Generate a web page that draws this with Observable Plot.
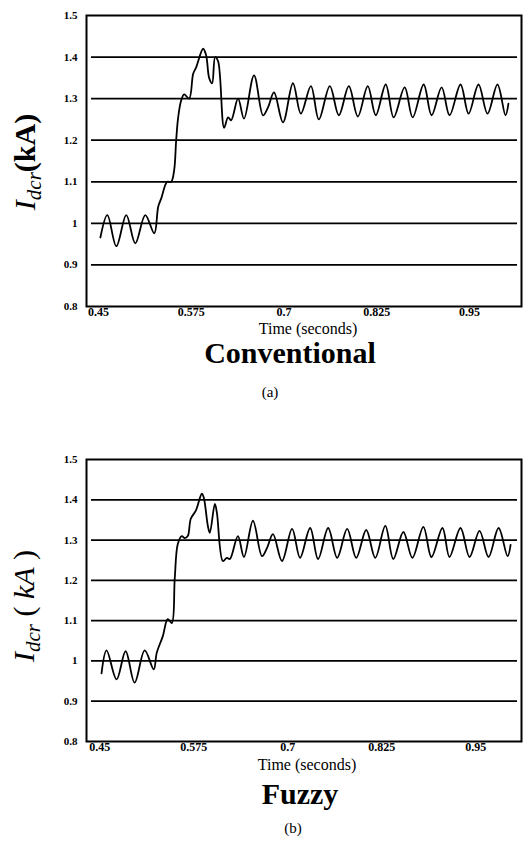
<!DOCTYPE html>
<html><head><meta charset="utf-8">
<script src="https://cdn.jsdelivr.net/npm/d3@7"></script>
<script src="https://cdn.jsdelivr.net/npm/@observablehq/plot@0.6"></script>
<style>
body{margin:0;background:#fff;}
#root{position:relative;width:524px;height:844px;overflow:hidden;font-family:"Liberation Serif","Times New Roman",serif;color:#000;}
.lbl{position:absolute;transform:translate(-50%,-50%);white-space:nowrap;line-height:1;}
.ylab{position:absolute;transform:translate(-50%,-50%) rotate(-90deg);white-space:nowrap;font-size:30px;line-height:1;}
.ylab sub{font-size:21px;vertical-align:-6px;}
.chart{position:absolute;left:0;}
.chart svg{display:block;}
</style></head><body><div id="root">
<div class="chart" id="c1" style="top:0px"></div>
<div class="chart" id="c2" style="top:444px"></div>
<div class="ylab" style="left:27px;top:162px"><i>I</i><sub><i>dcr</i></sub><b>(kA)</b></div>
<div class="ylab" style="left:26px;top:606px"><i>I</i><sub><i>dcr</i></sub> ( <i>kA</i> )</div>
<div class="lbl" style="left:308px;top:329px;font-size:16px">Time (seconds)</div>
<div class="lbl" style="left:290px;top:353px;font-size:30px;font-weight:bold">Conventional</div>
<div class="lbl" style="left:270px;top:392px;font-size:15px">(a)</div>
<div class="lbl" style="left:307px;top:765px;font-size:16px">Time (seconds)</div>
<div class="lbl" style="left:300px;top:794px;font-size:30px;font-weight:bold">Fuzzy</div>
<div class="lbl" style="left:293px;top:828px;font-size:15px">(b)</div>
</div>
<script>
// Conventional controller (a)
const timeConv = [0.4527,0.4621,0.4742,0.4876,0.4997,0.5132,0.5253,0.5306,0.5347,0.5427,0.5481,0.5521,0.5548,0.5575,0.5616,0.5656,0.5723,0.5777,0.5817,0.5911,0.5952,0.5992,0.6032,0.6073,0.6113,0.6194,0.6247,0.6288,0.6382,0.6462,0.6597,0.6718,0.6785,0.6866,0.6987,0.7121,0.7228,0.7363,0.7470,0.7618,0.7739,0.7874,0.7995,0.8129,0.8237,0.8371,0.8478,0.8626,0.8734,0.8882,0.8989,0.9124,0.9231,0.9379,0.9487,0.9621,0.9742,0.9876,0.9984,1.0024];
const idcrConv = [0.966,1.02,0.945,1.02,0.952,1.02,0.976,1.04,1.06,1.10,1.10,1.128,1.20,1.255,1.296,1.31,1.30,1.36,1.375,1.42,1.404,1.35,1.337,1.40,1.39,1.23,1.255,1.248,1.30,1.252,1.356,1.26,1.279,1.315,1.243,1.337,1.264,1.33,1.25,1.33,1.26,1.33,1.257,1.33,1.26,1.334,1.255,1.327,1.255,1.334,1.26,1.327,1.26,1.334,1.264,1.334,1.264,1.334,1.26,1.288];
// Fuzzy controller (b)
const timeFuzzy = [0.4525,0.4592,0.4725,0.4845,0.4965,0.5099,0.5219,0.5259,0.5339,0.5405,0.5459,0.5499,0.5539,0.5592,0.5632,0.5672,0.5712,0.5779,0.5859,0.5885,0.5939,0.5965,0.6032,0.6059,0.6139,0.6192,0.6232,0.6339,0.6419,0.6539,0.6659,0.6725,0.6805,0.6925,0.7059,0.7165,0.7299,0.7405,0.7539,0.7659,0.7792,0.7912,0.8045,0.8165,0.8299,0.8405,0.8539,0.8659,0.8805,0.8912,0.9059,0.9152,0.9299,0.9419,0.9552,0.9672,0.9805,0.9925,0.9965];
const idcrFuzzy = [0.969,1.026,0.954,1.024,0.946,1.026,0.979,1.02,1.061,1.104,1.094,1.206,1.29,1.31,1.305,1.31,1.353,1.373,1.415,1.405,1.335,1.318,1.39,1.368,1.248,1.256,1.253,1.31,1.258,1.348,1.26,1.28,1.315,1.248,1.328,1.256,1.33,1.253,1.33,1.256,1.328,1.256,1.325,1.256,1.335,1.253,1.32,1.256,1.333,1.258,1.33,1.258,1.33,1.258,1.323,1.258,1.33,1.26,1.288];
const xTicks = [0.45, 0.575, 0.7, 0.825, 0.95];
const xTickLabels = ["0.45", "0.575", "0.7", "0.825", "0.95"];
const yTicks = [0.8, 0.9, 1, 1.1, 1.2, 1.3, 1.4, 1.5];
const yTickLabels = ["0.8", "0.9", "1", "1.1", "1.2", "1.3", "1.4", "1.5"];
const gridY = [0.9, 1, 1.1, 1.2, 1.3, 1.4];

function makeChart(times, vals, height, xDomain) {
  const data = times.map((t, i) => ({t, v: vals[i]}));
  return Plot.plot({
    width: 524, height,
    marginLeft: 86, marginRight: 3, marginTop: 15, marginBottom: 20,
    x: {domain: xDomain},
    y: {domain: [0.8, 1.5]},
    style: {fontFamily: '"Liberation Serif","Times New Roman",serif', fontWeight: "bold", fontSize: "12px", color: "#000", background: "#fff"},
    marks: [
      Plot.ruleY(gridY, {stroke: "#000", strokeWidth: 1.7, insetLeft: 5, insetRight: 4}),
      Plot.line(data, {x: "t", y: "v", curve: "catmull-rom", stroke: "#000", strokeWidth: 1.8}),
      Plot.frame({stroke: "#000", strokeWidth: 2}),
      Plot.axisX(xTicks, {tickSize: 0, tickPadding: 1, label: null, fontSize: 12, tickFormat: d => xTickLabels[xTicks.indexOf(d)]}),
      Plot.axisY(yTicks, {tickSize: 0, tickPadding: 9, label: null, fontSize: 11, tickFormat: d => yTickLabels[yTicks.indexOf(d)]})
    ]
  });
}
document.getElementById("c1").appendChild(makeChart(timeConv, idcrConv, 326, [0.434, 1.02]));
document.getElementById("c2").appendChild(makeChart(timeFuzzy, idcrFuzzy, 317, [0.4325, 1.011]));
</script>
</body></html>
